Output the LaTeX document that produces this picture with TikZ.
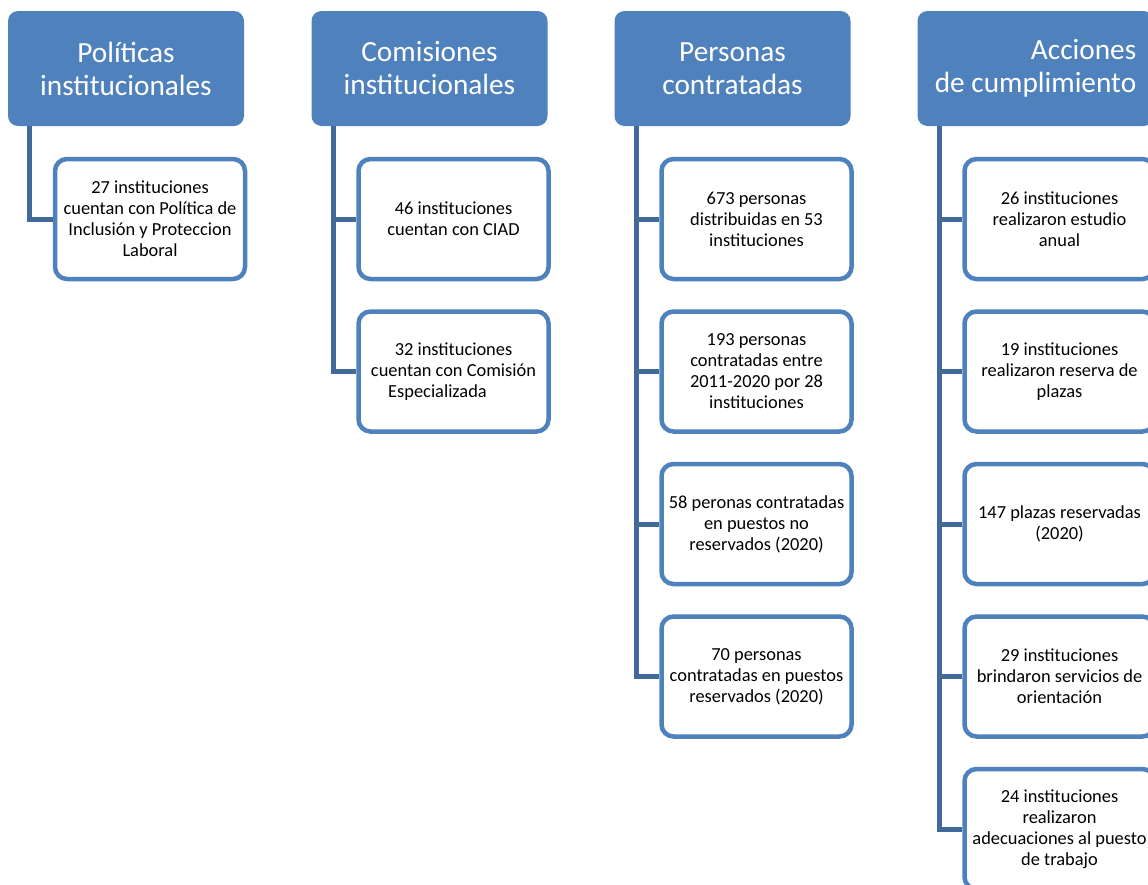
\documentclass[tikz,border=0pt]{standalone}
\usepackage{fontspec}
\setmainfont{Carlito}
\usetikzlibrary{positioning}
\definecolor{azul}{HTML}{4F81BD}
\definecolor{azuloscuro}{HTML}{41699A}

\tikzset{
  titulo/.style={fill=azul, rounded corners=10pt, minimum width=236pt, minimum height=115pt,
    inner sep=0pt, text=white, align=center, font=\fontsize{29.3}{33}\selectfont},
  caja/.style={draw=azul, line width=4.5pt, fill=white, rounded corners=12pt,
    minimum width=190pt, minimum height=120pt, inner sep=0pt, align=center,
    font=\fontsize{18.4}{21}\selectfont},
  enlace/.style={draw=azuloscuro, line width=5pt},
}

\begin{document}
\begin{tikzpicture}[x=1pt,y=-1pt]
        \useasboundingbox (0,0) rectangle (1148,884);
        \clip (0,0) rectangle (1148,884);

        % Encabezados
        \node[titulo] (h1) at (126,68.5)    {Políticas\\institucionales};
        \node[titulo] (h2) at (429.5,68.5)  {Comisiones\\institucionales};
        \node[titulo] (h3) at (732.5,68.5)  {Personas\\contratadas};
        \node[titulo, align=right] (h4) at (1035.5,68.5) {Acciones\\de cumplimiento};

        % Políticas
        \node[caja] (c11) at (150,219) {27 instituciones\\cuentan con Política de\\Inclusión y Proteccion\\Laboral};

        % Comisiones
        \node[caja] (c21) at (453.5,219) {46 instituciones\\cuentan con CIAD};
        \node[caja, below=28pt of c21] (c22) {32 instituciones\\cuentan con Comisión\\Especializada\hspace*{32pt}};

        % Personas
        \node[caja] (c31) at (756.5,219) {673 personas\\distribuidas en 53\\instituciones};
        \node[caja, below=28pt of c31] (c32) {193 personas\\contratadas entre\\2011-2020 por 28\\instituciones};
        \node[caja, below=28pt of c32] (c33) {58 peronas contratadas\\en puestos no\\reservados (2020)};
        \node[caja, below=28pt of c33] (c34) {70 personas\\contratadas en puestos\\reservados (2020)};

        % Acciones
        \node[caja] (c41) at (1059.5,219) {26 instituciones\\realizaron estudio\\anual};
        \node[caja, below=28pt of c41] (c42) {19 instituciones\\realizaron reserva de\\plazas};
        \node[caja, below=28pt of c42] (c43) {147 plazas reservadas\\(2020)};
        \node[caja, below=28pt of c43] (c44) {29 instituciones\\brindaron servicios de\\orientación};
        \node[caja, below=28pt of c44] (c45) {24 instituciones\\realizaron\\adecuaciones al puesto\\de trabajo};

        % Conectores
        \draw[enlace] ([xshift=22pt]h1.south west) |- (c11.west);
        \foreach \k in {1,2}     \draw[enlace] ([xshift=22pt]h2.south west) |- (c2\k.west);
        \foreach \k in {1,...,4} \draw[enlace] ([xshift=22pt]h3.south west) |- (c3\k.west);
        \foreach \k in {1,...,5} \draw[enlace] ([xshift=22pt]h4.south west) |- (c4\k.west);
    \end{tikzpicture}
\end{document}
